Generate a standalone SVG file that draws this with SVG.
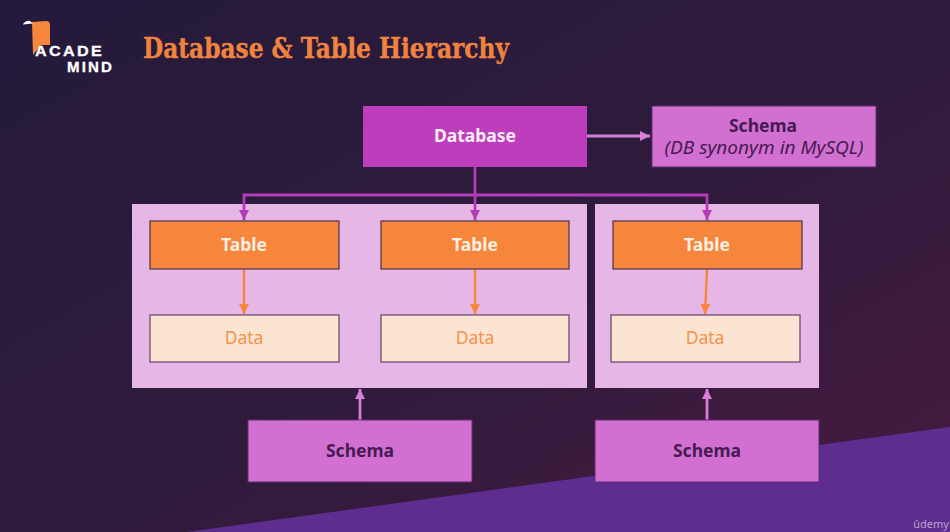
<svg xmlns="http://www.w3.org/2000/svg" width="950" height="532" viewBox="0 0 950 532">
<style>
text{font-family:"Noto Sans","Open Sans",sans-serif;text-anchor:middle}
.lbl{font-size:17.5px;font-weight:700}
.logo-t{font-size:14px;font-weight:700;font-family:"Liberation Sans",sans-serif;letter-spacing:2px;stroke:#fff;stroke-width:.3px}
.table rect{fill:#f5863c;stroke:#5a3a50;stroke-width:1.3}
.table text{fill:#fdeee0}
.data rect{fill:#fce4d3;stroke:#6d4d6d;stroke-width:1.3}
.data text{fill:#f5924a;font-weight:400}
.schema rect{fill:#d170d0;stroke:#5e2a70;stroke-width:1}
.schema text{fill:#471a52}
.group{fill:#e6b6e6}
.cp{fill:none;stroke:#b53bb8;stroke-width:2.8}
.co{fill:none;stroke:#f5863c;stroke-width:2.4}
.cs{fill:none;stroke:#d77ed6;stroke-width:2.8}
</style>
<defs>
<linearGradient id="bg" x1="0" y1="0" x2="1" y2="1"><stop offset="0" stop-color="#241a3b"/><stop offset="0.55" stop-color="#2f1b3c"/><stop offset="1" stop-color="#481a40"/></linearGradient>
<marker id="mp" markerUnits="userSpaceOnUse" markerWidth="11" markerHeight="10" refX="10" refY="5" orient="auto"><path d="M0 0L10 5L0 10Z" fill="#b53bb8"/></marker>
<marker id="mo" markerUnits="userSpaceOnUse" markerWidth="11" markerHeight="10" refX="10" refY="5" orient="auto"><path d="M0 0L10 5L0 10Z" fill="#f5863c"/></marker>
<marker id="ms" markerUnits="userSpaceOnUse" markerWidth="11" markerHeight="10" refX="10" refY="5" orient="auto"><path d="M0 0L10 5L0 10Z" fill="#d77ed6"/></marker>
</defs>
<rect width="950" height="532" fill="url(#bg)"/>
<polygon points="187,532 950,427 950,532" fill="#5e2d90"/>
<g id="logo">
<path d="M32 22L46 21Q50 21 50 25L50 45L41 45L33 55Z" fill="#f5863c"/>
<path d="M23 24Q26 20 30 21L33 23.5L23 24.5Z" fill="#fff"/>
<text class="logo-t" x="69.5" y="56" fill="#fff" textLength="69" lengthAdjust="spacingAndGlyphs">ACADE</text>
<text class="logo-t" x="90.5" y="72" fill="#fff" textLength="47" lengthAdjust="spacingAndGlyphs">MIND</text>
</g>
<text id="title" x="143" y="58" fill="#f0843f" stroke="#f0843f" stroke-width=".4" textLength="366" lengthAdjust="spacingAndGlyphs" style="text-anchor:start;font-family:'DejaVu Serif',serif;font-size:28px;font-weight:700">Database &amp; Table Hierarchy</text>
<rect id="group1" class="group" x="132" y="204" width="455" height="184"/>
<rect id="group2" class="group" x="595" y="204" width="224" height="184"/>
<g id="connectors">
<path class="cp" d="M475 166V220" marker-end="url(#mp)"/>
<path class="cp" d="M475 195H244V220" marker-end="url(#mp)"/>
<path class="cp" d="M475 195H707V220" marker-end="url(#mp)"/>
<path class="cs" d="M587 136H650" marker-end="url(#ms)"/>
<path class="co" d="M244 269V314" marker-end="url(#mo)"/>
<path class="co" d="M475 269V314" marker-end="url(#mo)"/>
<path class="co" d="M707 269L705 314" marker-end="url(#mo)"/>
<path class="cs" d="M360 420V389" marker-end="url(#ms)"/>
<path class="cs" d="M707 420V389" marker-end="url(#ms)"/>
</g>
<g id="database"><rect x="363" y="106" width="224" height="61" fill="#bd3dbd"/><text class="lbl" x="475" y="142" fill="#fdeefa">Database</text></g>
<g id="schema-db" class="schema"><rect x="652" y="106" width="224" height="61"/><text class="lbl" x="763" y="132">Schema</text><text x="764" y="154" textLength="199" lengthAdjust="spacingAndGlyphs" style="font-size:17.5px;font-style:italic">(DB synonym in MySQL)</text></g>
<g id="table1" class="table"><rect x="150" y="221" width="189" height="48"/><text class="lbl" x="244" y="251">Table</text></g>
<g id="table2" class="table"><rect x="381" y="221" width="188" height="48"/><text class="lbl" x="475" y="251">Table</text></g>
<g id="table3" class="table"><rect x="613" y="221" width="189" height="48"/><text class="lbl" x="707" y="251">Table</text></g>
<g id="data1" class="data"><rect x="150" y="315" width="189" height="47"/><text class="lbl" x="244" y="344">Data</text></g>
<g id="data2" class="data"><rect x="381" y="315" width="188" height="47"/><text class="lbl" x="475" y="344">Data</text></g>
<g id="data3" class="data"><rect x="611" y="315" width="189" height="47"/><text class="lbl" x="705" y="344">Data</text></g>
<g id="schema1" class="schema"><rect x="248" y="420" width="224" height="62"/><text class="lbl" x="360" y="457">Schema</text></g>
<g id="schema2" class="schema"><rect x="595" y="420" width="224" height="62"/><text class="lbl" x="707" y="457">Schema</text></g>
<text id="udemy" x="931" y="528" fill="#b9a6c8" style="font-size:11px">ûdemy</text>
</svg>
